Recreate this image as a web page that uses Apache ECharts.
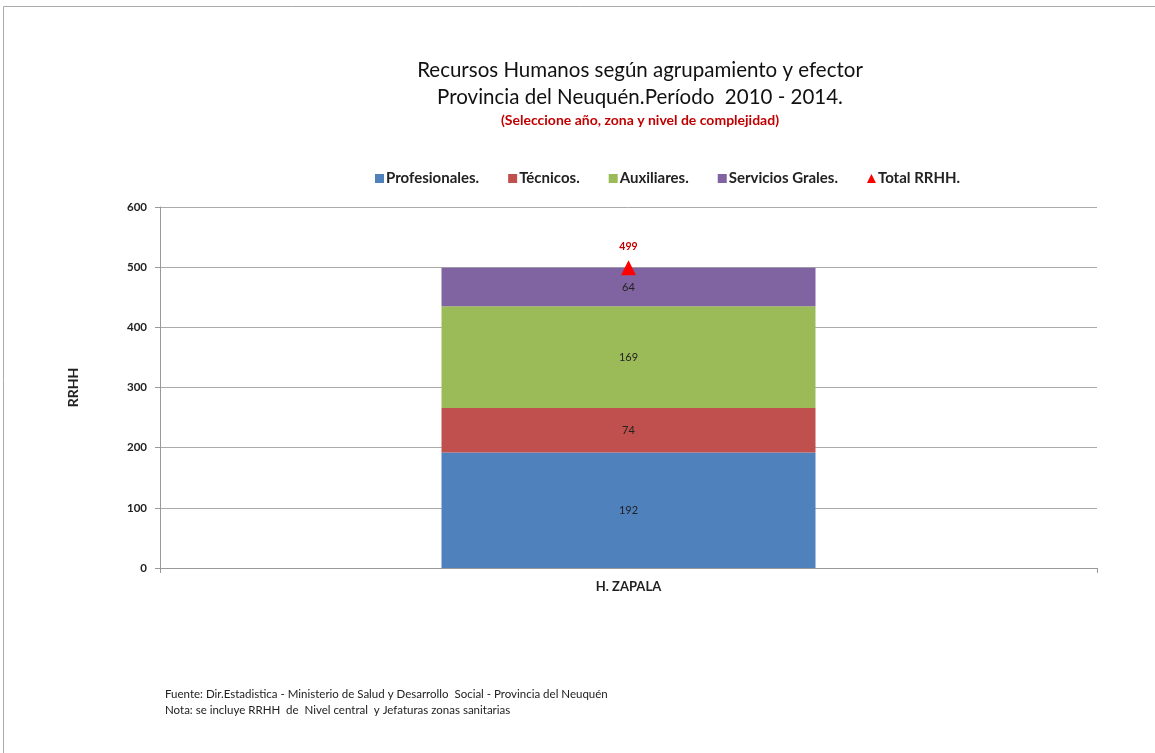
<!DOCTYPE html>
<html><head><meta charset="utf-8">
<script src="https://cdn.jsdelivr.net/npm/echarts@6/dist/echarts.min.js"></script>
<style>html,body{margin:0;padding:0;background:#fff}#c{width:1155px;height:753px}</style>
</head><body><div id="c"></div>
<script>
const categories = ['H. ZAPALA'];
const profesionales = [192];
const tecnicos = [74];
const auxiliares = [169];
const servicios = [64];
const total = [499];
const seriesNames = ['Profesionales.', 'Técnicos.', 'Auxiliares.', 'Servicios Grales.', 'Total RRHH.'];
const yTicks = [0, 100, 200, 300, 400, 500, 600];

const F = 'Lato, "Open Sans", sans-serif';
const chart = echarts.init(document.getElementById('c'));
const barLabel = {show: true, position: 'inside', color: '#222', fontSize: 11, fontFamily: F};
const colors = ['#4F81BD', '#C0504D', '#9BBB59', '#8064A2'];
const values = [profesionales, tecnicos, auxiliares, servicios];

chart.setOption({
  animation: false,
  textStyle: {fontFamily: F},
  title: [
    {text: 'Recursos Humanos según agrupamiento y efector', left: 635, top: 55, textAlign: 'center',
     textStyle: {fontSize: 20.5, fontWeight: 'normal', color: '#111', fontFamily: F}},
    {text: 'Provincia del Neuquén.Período  2010 - 2014.', left: 635, top: 82, textAlign: 'center',
     textStyle: {fontSize: 20.5, fontWeight: 'normal', color: '#111', fontFamily: F}},
    {text: '(Seleccione año, zona y nivel de complejidad)', left: 635, top: 108, textAlign: 'center',
     textStyle: {fontSize: 14, fontWeight: 'bold', color: '#C00000', fontFamily: F}},
    {text: 'Fuente: Dir.Estadistica - Ministerio de Salud y Desarrollo  Social - Provincia del Neuquén\nNota: se incluye RRHH  de  Nivel central  y Jefaturas zonas sanitarias',
     left: 160, top: 681, textStyle: {fontSize: 11.5, fontWeight: 'normal', color: '#222', lineHeight: 16, fontFamily: F}}
  ],
  legend: {
    top: 166, left: 370, itemGap: 29, itemWidth: 9, itemHeight: 9,
    textStyle: {fontSize: 15, fontWeight: 'bold', color: '#222', fontFamily: F, padding: [0,0,0,-3]},
    data: [
      {name: seriesNames[0], icon: 'rect'},
      {name: seriesNames[1], icon: 'rect'},
      {name: seriesNames[2], icon: 'rect'},
      {name: seriesNames[3], icon: 'rect'},
      {name: seriesNames[4], icon: 'triangle', itemStyle: {color: '#FF0000'}}
    ]
  },
  grid: {left: 160, right: 58, top: 207, bottom: 185},
  xAxis: {
    type: 'category', data: categories,
    axisLine: {lineStyle: {color: '#999'}},
    axisTick: {show: true, alignWithLabel: false, length: 5, lineStyle: {color: '#999'}},
    axisLabel: {fontSize: 13, fontWeight: 'bold', color: '#222', margin: 12, fontFamily: F}
  },
  yAxis: {
    type: 'value', min: yTicks[0], max: yTicks[yTicks.length - 1], interval: 100,
    name: 'RRHH', nameLocation: 'middle', nameGap: 80, nameRotate: 90,
    nameTextStyle: {fontSize: 14, fontWeight: 'bold', color: '#222', fontFamily: F},
    axisLine: {show: true, lineStyle: {color: '#999'}},
    axisTick: {show: true, length: 5, lineStyle: {color: '#999'}},
    axisLabel: {fontSize: 11.5, fontWeight: 'bold', color: '#222', margin: 13, fontFamily: F},
    splitLine: {lineStyle: {color: '#aaa'}}
  },
  graphic: [
    {type: 'rect', shape: {x: 3.5, y: 6.5, width: 1200, height: 800}, style: {fill: 'none', stroke: '#aaa', lineWidth: 1}, silent: true}
  ],
  series: [
    ...values.map((v, i) => ({
      name: seriesNames[i], type: 'bar', stack: 'rrhh', data: v, barWidth: 374,
      itemStyle: {color: colors[i]}, label: barLabel
    })),
    {
      name: seriesNames[4], type: 'line', data: total, symbol: 'triangle', symbolSize: 15,
      itemStyle: {color: '#FF0000'}, lineStyle: {opacity: 0},
      label: {show: true, position: 'top', distance: 8, color: '#C00000', fontSize: 10.5, fontWeight: 'bold', fontFamily: F}
    }
  ]
});
</script></body></html>
